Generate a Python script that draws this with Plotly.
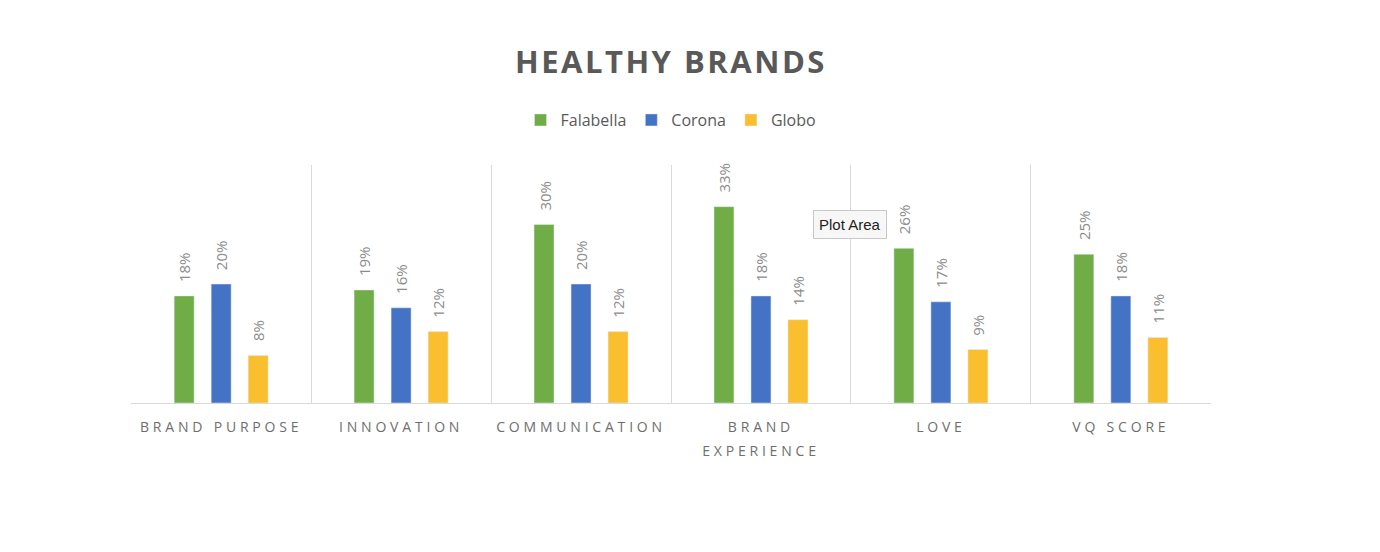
import plotly.graph_objects as go

categories = ["BRAND PURPOSE", "INNOVATION", "COMMUNICATION", "BRAND<br>EXPERIENCE", "LOVE", "VQ SCORE"]
falabella = [0.18, 0.19, 0.30, 0.33, 0.26, 0.25]
corona = [0.20, 0.16, 0.20, 0.18, 0.17, 0.18]
globo = [0.08, 0.12, 0.12, 0.14, 0.09, 0.11]

series = [("Falabella", falabella, "#70AD47"),
          ("Corona", corona, "#4472C4"),
          ("Globo", globo, "#F9BF2E")]

fig = go.Figure()
for name, vals, col in series:
    fig.add_trace(go.Bar(x=categories, y=vals, name=name, marker_color=col,
                         hoverinfo="skip"))

# rotated data labels, a bit above the bars like excel does
slot = 37
for i, (name, vals, col) in enumerate(series):
    for c, v in zip(categories, vals):
        fig.add_annotation(x=c, y=v, text=f"{v:.0%}", textangle=-90, showarrow=False,
                           xanchor="center", yanchor="bottom", xshift=(i - 1) * slot, yshift=12,
                           font=dict(family="Open Sans", size=15, color="#8C8C8C"))

# the hover box left in the screenshot
fig.add_annotation(xref="paper", yref="paper", x=0.666, y=0.75, text="Plot Area", showarrow=False,
                   xanchor="center", yanchor="middle",
                   font=dict(family="Liberation Sans", size=15, color="#222222"),
                   bgcolor="#F7F7F7", bordercolor="#C8C8C8", borderwidth=1, borderpad=5)

# page has 8px body margin, so pull margins in by 8
fig.update_layout(
    width=1380, height=552,
    margin=dict(l=123, r=177, t=157, b=157),
    paper_bgcolor="white", plot_bgcolor="white",
    barmode="group", bargap=0.383, bargroupgap=0.46,
    font=dict(family="Open Sans", color="#595959"),
    title=dict(text="<b>HEALTHY BRANDS</b>", x=0.4804, xanchor="center", y=0.902, yanchor="middle",
               font=dict(family="Open Sans", size=31, color="#595959")),
    legend=dict(orientation="h", x=0.5, xanchor="center", y=1.189, yanchor="middle",
                font=dict(size=16, color="#595959"), itemwidth=30),
    showlegend=True,
)
fig.update_xaxes(type="category", tickson="boundaries", showgrid=True, gridcolor="#D9D9D9",
                 showline=True, linecolor="#D9D9D9", ticks="", range=[-0.501, 5.501],
                 tickfont=dict(family="Open Sans", size=14, color="#6E6E6E"), ticklabelstandoff=11)
fig.update_yaxes(range=[0, 0.40], showticklabels=False, showgrid=False, zeroline=False)

post = """
var gd = document.getElementById('{plot_id}');
function spacing() {
  gd.querySelectorAll('.xtick text').forEach(function (t) { t.style.letterSpacing = '3.8px'; });
  gd.querySelectorAll('.xtick tspan.line').forEach(function (t) {
    if (parseFloat(t.getAttribute('dy')) > 0) { t.setAttribute('dy', '1.75em'); }
  });
  gd.querySelectorAll('.gtitle').forEach(function (t) { t.style.letterSpacing = '2.5px'; });
}
spacing();
gd.on('plotly_afterplot', spacing);
"""
fig.write_html("out.html", post_script=post)
